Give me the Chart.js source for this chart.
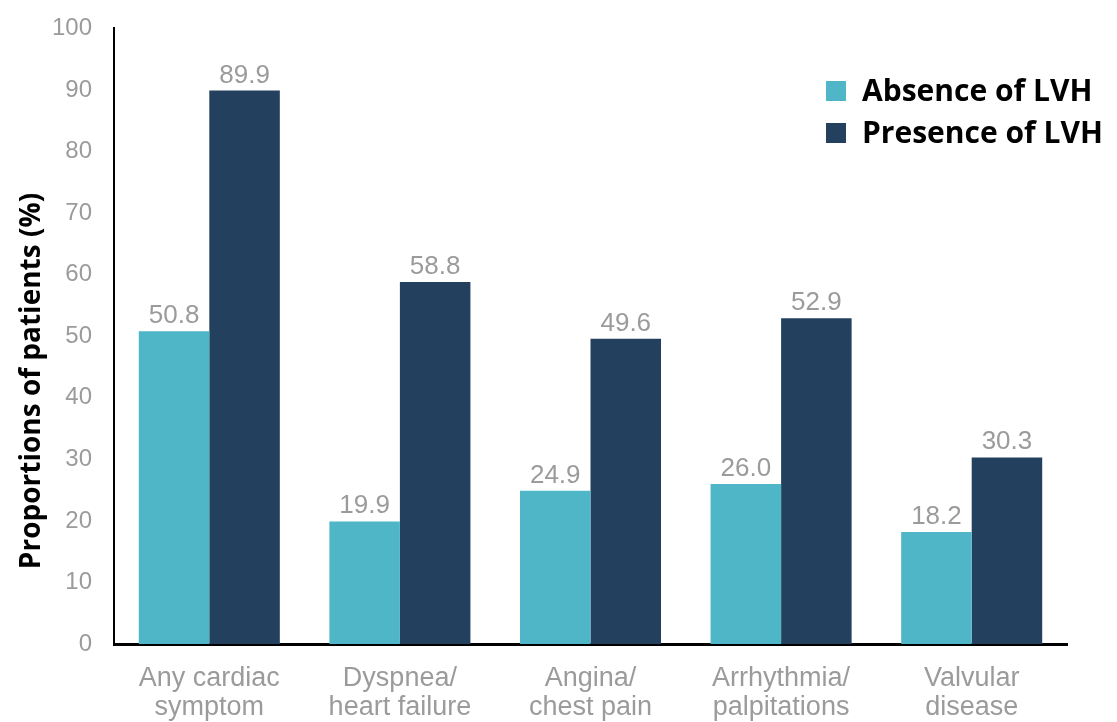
<!DOCTYPE html>
<html>
<head>
<meta charset="utf-8">
<script src="https://cdn.jsdelivr.net/npm/chart.js@4"></script>
<style>
  html, body { margin: 0; padding: 0; background: #fff; }
  #wrap { width: 1117px; height: 722px; }
</style>
</head>
<body>
<div id="wrap"><canvas id="lvhChart" width="1117" height="722"></canvas></div>
<script>
// chart data
const categories = [
    ['Any cardiac', 'symptom'],
    ['Dyspnea/', 'heart failure'],
    ['Angina/', 'chest pain'],
    ['Arrhythmia/', 'palpitations'],
    ['Valvular', 'disease']
];
const absenceLVH = [50.8, 19.9, 24.9, 26.0, 18.2];
const presenceLVH = [89.9, 58.8, 49.6, 52.9, 30.3];
const yTicks = [0, 10, 20, 30, 40, 50, 60, 70, 80, 90, 100];
const yTitle = 'Proportions of patients (%)';

const tealColor = '#4fb6c8';
const navyColor = '#24405f';
const greyText = '#9b9b9b';

// value labels above each bar
const barValues = {
    id: 'barValues',
    afterDatasetsDraw(chart) {
        const ctx = chart.ctx;
        ctx.save();
        ctx.font = '26px "Liberation Sans", Arial, sans-serif';
        ctx.fillStyle = greyText;
        ctx.textAlign = 'center';
        ctx.textBaseline = 'alphabetic';
        chart.data.datasets.forEach((ds, i) => {
            chart.getDatasetMeta(i).data.forEach((bar, j) => {
                ctx.fillText(ds.data[j].toFixed(1), bar.x, bar.y - 8);
            });
        });
        ctx.restore();
    }
};

// y title, sits a bit lower than the axis centre in the original
const sideTitle = {
    id: 'sideTitle',
    afterDraw(chart) {
        const ctx = chart.ctx;
        ctx.save();
        ctx.translate(40, 381);
        ctx.rotate(-Math.PI / 2);
        ctx.font = 'bold 28px "Open Sans", sans-serif';
        ctx.fillStyle = '#000';
        ctx.textAlign = 'center';
        ctx.textBaseline = 'alphabetic';
        ctx.fillText(yTitle, 0, 0);
        ctx.restore();
    }
};

// legend in the top right corner, over the plot
const cornerLegend = {
    id: 'cornerLegend',
    afterDraw(chart) {
        const ctx = chart.ctx;
        ctx.save();
        ctx.font = 'bold 30px "Open Sans", sans-serif';
        ctx.textBaseline = 'alphabetic';
        ctx.textAlign = 'left';
        chart.data.datasets.forEach((ds, i) => {
            const y = 91 + i * 42;
            ctx.fillStyle = ds.backgroundColor;
            ctx.fillRect(826, y - 10, 20, 20);
            ctx.fillStyle = '#000';
            ctx.fillText(ds.label, 862, y + 10);
        });
        ctx.restore();
    }
};

new Chart(document.getElementById('lvhChart'), {
    type: 'bar',
    data: {
        labels: categories,
        datasets: [
            { label: 'Absence of LVH', data: absenceLVH, backgroundColor: tealColor },
            { label: 'Presence of LVH', data: presenceLVH, backgroundColor: navyColor }
        ]
    },
    options: {
        responsive: false,
        animation: false,
        layout: { padding: { top: 25, right: 50, left: 0, bottom: 0 } },
        plugins: {
            legend: { display: false },
            tooltip: { enabled: false }
        },
        datasets: {
            bar: { categoryPercentage: 0.74, barPercentage: 1.0 }
        },
        scales: {
            x: {
                grid: { display: false },
                border: { color: '#000', width: 3 },
                ticks: {
                    color: greyText,
                    font: { family: '"Liberation Sans", Arial, sans-serif', size: 27, lineHeight: 1.07 },
                    padding: 12
                },
                afterFit(scale) { scale.height = 78; }
            },
            y: {
                min: 0,
                max: 100,
                afterBuildTicks(scale) { scale.ticks = yTicks.map(v => ({ value: v })); },
                grid: { display: false },
                border: { color: '#000', width: 2 },
                ticks: {
                    color: greyText,
                    font: { family: '"Liberation Sans", Arial, sans-serif', size: 24 },
                    padding: 14
                },
                afterFit(scale) { scale.width = 114; }
            }
        }
    },
    plugins: [barValues, sideTitle, cornerLegend]
});
</script>
</body>
</html>
